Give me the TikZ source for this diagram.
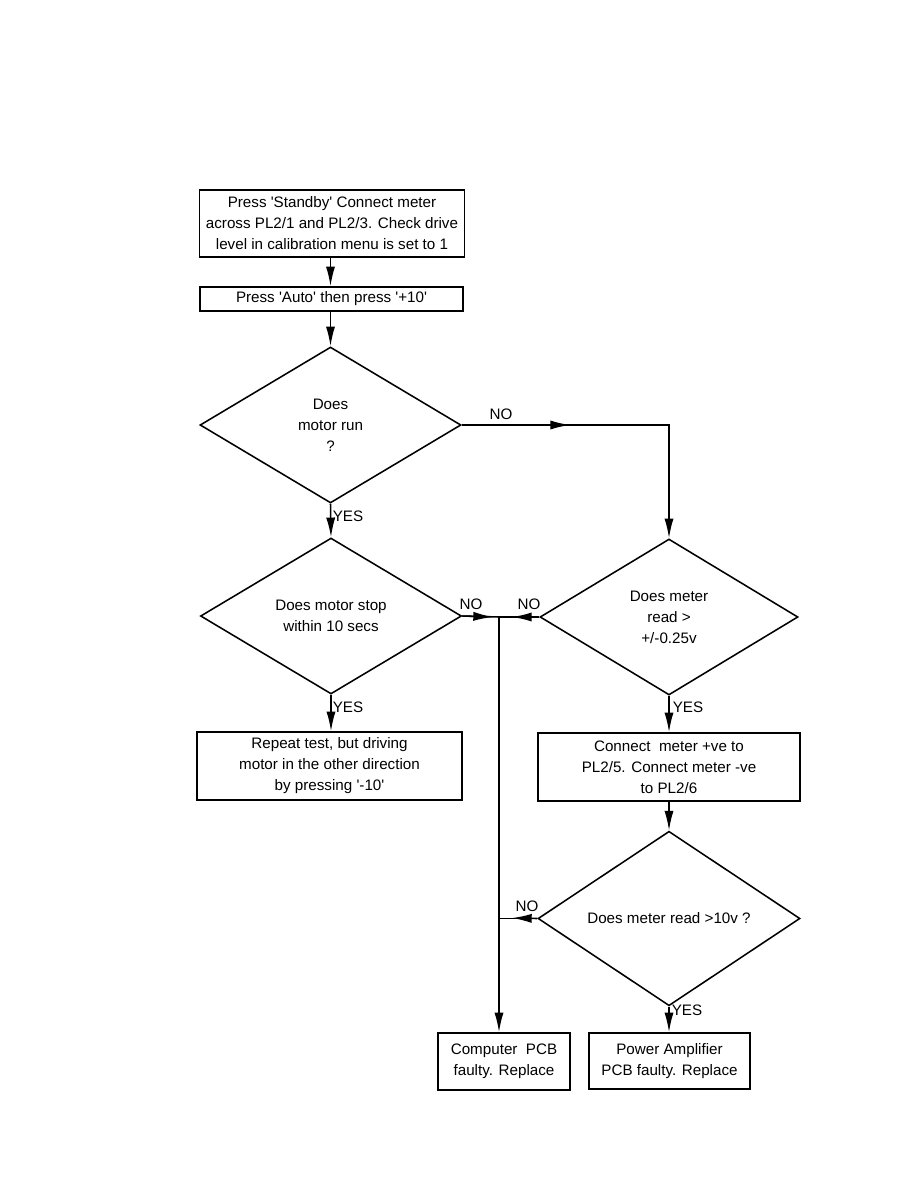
\documentclass[tikz,border=0pt]{standalone}
\usepackage{fontspec}
\setmainfont{Liberation Sans}[Ligatures=TeXOff]
\usetikzlibrary{shapes.geometric,arrows.meta}
\newlength\pxu
\setlength\pxu{0.025cm}

\begin{document}
\begin{tikzpicture}[x=0.025cm,y=-0.025cm,line width=1.1pt,
		font=\fontsize{10.8}{14.9}\selectfont,
		stepbox/.style={draw,align=center,inner sep=0pt},
		ask/.style={draw,diamond,align=center,inner sep=0pt,
				minimum width=261\pxu,minimum height=156\pxu},
		arr/.style={-{Latex[length=14pt,width=6.5pt]}},
		lbl/.style={inner sep=1pt}]
	\useasboundingbox (0,0) rectangle (918,1188);
	\node[stepbox,minimum width=265\pxu,minimum height=67\pxu] (standby) at (332,223.5)
		{Press 'Standby' Connect meter\\across PL2/1 and PL2/3. Check drive\\level in calibration menu is set to 1};
	\node[stepbox,minimum width=263\pxu,minimum height=24\pxu] (auto) at (331.5,299)
		{Press 'Auto' then press '+10'};
	\node[ask] (run) at (330.5,425) {Does\\motor run\\?};
	\node[ask] (stop) at (331,616) {Does motor stop\\within 10 secs};
	\node[ask,minimum width=258\pxu] (read) at (669,617) {Does meter\\read >\\+/-0.25v};
	\node[stepbox,minimum width=265\pxu,minimum height=68\pxu] (repeat) at (329.5,766)
		{Repeat test, but driving\\motor in the other direction\\by pressing '-10'};
	\node[stepbox,minimum width=262\pxu,minimum height=68\pxu] (connect) at (669,767)
		{Connect \ meter +ve to\\PL2/5. Connect meter -ve\\to PL2/6};
	\node[ask,minimum width=262\pxu,minimum height=157\pxu] (ten) at (669,918.5) {Does meter read >10v ?};
	\node[stepbox,minimum width=132\pxu,minimum height=57\pxu] (comp) at (504,1061.5)
		{Computer \ PCB\\faulty. Replace};
	\node[stepbox,minimum width=161\pxu,minimum height=56\pxu] (amp) at (669.5,1061)
		{Power Amplifier\\PCB faulty. Replace};
	\coordinate (j) at (499,617);
	\coordinate (m1) at (570,425);
	\coordinate (jl) at (493,617);
	\coordinate (jr) at (512,617);
	\coordinate (jt) at (512,918);
	\draw[arr] (run.north |- standby.south) -- (run.north |- auto.north);
	\draw[arr] (run.north |- auto.south) -- (run.north);
	\draw[arr] (run.east) -| (read.north);
	\draw[arr] (run.east) -- (m1);
	\draw[arr] (run.south) -- (stop.north);
	\draw[arr] (stop.south) -- (stop.south |- repeat.north);
	\draw (stop.east) -- (j);
	\draw[arr] (stop.east) -- (jl);
	\draw (read.west) -- (j);
	\draw[arr] (read.west) -- (jr);
	\draw[arr] (read.south) -- (connect.north);
	\draw[arr] (connect.south) -- (ten.north);
	\draw (ten.west) -- (ten.west -| j);
	\draw[arr] (ten.west) -- (jt);
	\draw[arr] (ten.south) -- (ten.south |- amp.north);
	\draw[arr] (j) -- (j |- comp.north);
	\node[lbl] (no1) at (501,414) {NO};
	\node[lbl] (yes1) at (348,516) {YES};
	\node[lbl] (no2) at (471,604) {NO};
	\node[lbl] (yes2) at (348,707) {YES};
	\node[lbl] (no3) at (529,604) {NO};
	\node[lbl] (yes3) at (688,707) {YES};
	\node[lbl] (no4) at (527,906) {NO};
	\node[lbl] (yes4) at (687,1010) {YES};
\end{tikzpicture}
\end{document}
